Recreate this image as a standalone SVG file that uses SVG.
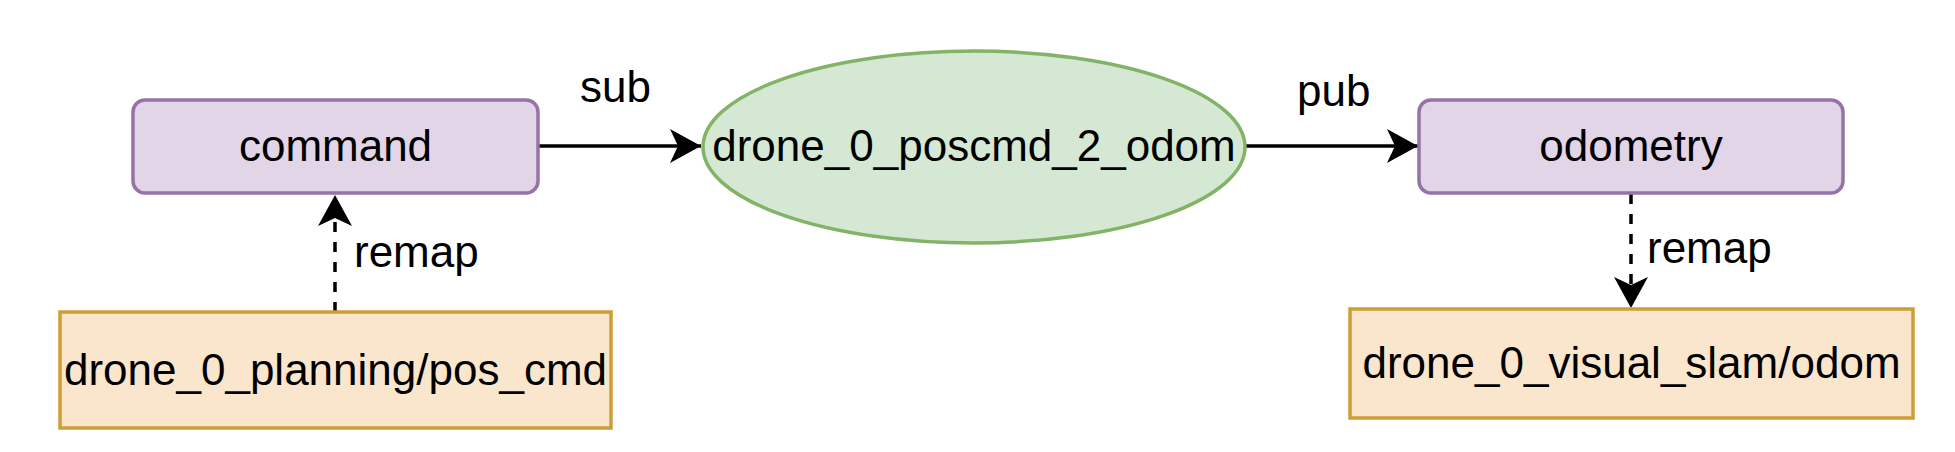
<svg xmlns="http://www.w3.org/2000/svg" width="1955" height="452" viewBox="0 0 1955 452">
<style>
.topic{fill:#e1d5e7;stroke:#9673a6;stroke-width:3.5}
.node{fill:#d5e8d4;stroke:#82b366;stroke-width:3.5}
.src{fill:#f9e6cd;stroke:#cd9e38;stroke-width:3.5}
.t{font-family:"Liberation Sans",Arial,sans-serif;font-size:44px;fill:#000;text-anchor:middle}
.l{font-family:"Liberation Sans",Arial,sans-serif;font-size:44px;fill:#000}
.e{fill:none;stroke:#000;stroke-width:3.5}
.d{stroke-dasharray:10 10}
</style>
<defs>
<marker id="arr" viewBox="0 0 32 34" refX="31" refY="17" markerWidth="32" markerHeight="34" markerUnits="userSpaceOnUse" orient="auto">
<path d="M31,17 L0,0 L8,17 L0,34 Z" fill="#000"/>
</marker>
</defs>
<rect width="1955" height="452" fill="#fff"/>
<g id="connectors">
<line class="e" x1="539" y1="146" x2="701" y2="146" marker-end="url(#arr)"/>
<line class="e" x1="1246" y1="146" x2="1418" y2="146" marker-end="url(#arr)"/>
<line class="e d" x1="335" y1="312" x2="335" y2="195" marker-end="url(#arr)"/>
<line class="e d" x1="1631" y1="194" x2="1631" y2="308" marker-end="url(#arr)"/>
<text class="l" x="580" y="102">sub</text>
<text class="l" x="1297" y="106">pub</text>
<text class="l" x="354" y="267">remap</text>
<text class="l" x="1647" y="263">remap</text>
</g>
<g id="command">
<rect class="topic" x="133" y="100" width="405" height="93" rx="12"/>
<text class="t" x="335.5" y="161">command</text>
</g>
<g id="poscmd2odom">
<ellipse class="node" cx="974" cy="147" rx="271" ry="96"/>
<text class="t" x="974" y="161">drone_0_poscmd_2_odom</text>
</g>
<g id="odometry">
<rect class="topic" x="1419" y="100" width="424" height="93" rx="12"/>
<text class="t" x="1631" y="161">odometry</text>
</g>
<g id="planning">
<rect class="src" x="60" y="312" width="551" height="116"/>
<text class="t" x="335.5" y="385">drone_0_planning/pos_cmd</text>
</g>
<g id="slam">
<rect class="src" x="1350" y="309" width="563" height="109"/>
<text class="t" x="1631.5" y="378">drone_0_visual_slam/odom</text>
</g>
</svg>
